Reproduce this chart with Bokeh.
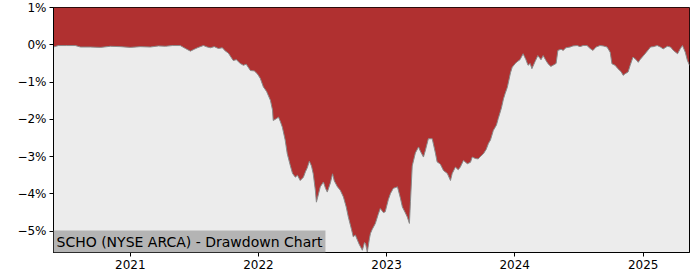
import pandas as pd
from bokeh.plotting import figure
from bokeh.models import Range1d, FixedTicker, CustomJSTickFormatter, Label, ColumnDataSource
from bokeh.embed import file_html
from bokeh.resources import INLINE

title_text = "SCHO (NYSE ARCA) - Drawdown Chart"

dates = [
    "2020-05-27", "2020-06-10", "2020-07-03", "2020-07-28", "2020-08-12", "2020-09-09",
    "2020-10-08", "2020-11-05", "2020-12-04", "2021-01-01", "2021-01-29", "2021-02-27",
    "2021-03-22", "2021-04-11", "2021-05-01", "2021-05-23", "2021-06-07", "2021-06-21",
    "2021-07-02", "2021-07-11", "2021-07-28", "2021-08-08", "2021-08-17", "2021-08-28",
    "2021-09-09", "2021-09-20", "2021-09-29", "2021-10-07", "2021-10-16", "2021-10-21",
    "2021-10-30", "2021-11-10", "2021-11-19", "2021-11-27", "2021-12-09", "2021-12-20",
    "2021-12-29", "2022-01-06", "2022-01-15", "2022-01-24", "2022-02-04", "2022-02-10",
    "2022-02-12", "2022-02-21", "2022-02-27", "2022-03-04", "2022-03-10", "2022-03-18",
    "2022-03-24", "2022-04-02", "2022-04-08", "2022-04-16", "2022-04-22", "2022-04-30",
    "2022-05-09", "2022-05-15", "2022-05-20", "2022-05-26", "2022-06-01", "2022-06-06",
    "2022-06-12", "2022-06-15", "2022-06-21", "2022-06-26", "2022-07-05", "2022-07-11",
    "2022-07-16", "2022-07-25", "2022-07-31", "2022-08-05", "2022-08-14", "2022-08-22",
    "2022-08-31", "2022-09-08", "2022-09-14", "2022-09-23", "2022-09-28", "2022-10-04",
    "2022-10-10", "2022-10-15", "2022-10-24", "2022-10-30", "2022-11-02", "2022-11-07",
    "2022-11-13", "2022-11-16", "2022-11-21", "2022-11-30", "2022-12-08", "2022-12-14",
    "2022-12-23", "2022-12-28", "2023-01-06", "2023-01-12", "2023-01-20", "2023-02-01",
    "2023-02-09", "2023-02-15", "2023-02-23", "2023-03-01", "2023-03-07", "2023-03-10",
    "2023-03-15", "2023-03-24", "2023-04-02", "2023-04-07", "2023-04-16", "2023-04-21",
    "2023-04-30", "2023-05-11", "2023-05-20", "2023-05-25", "2023-06-03", "2023-06-12",
    "2023-06-23", "2023-07-02", "2023-07-07", "2023-07-16", "2023-07-24", "2023-07-30",
    "2023-08-08", "2023-08-19", "2023-08-28", "2023-09-02", "2023-09-11", "2023-09-19",
    "2023-09-25", "2023-10-04", "2023-10-12", "2023-10-18", "2023-10-24", "2023-11-01",
    "2023-11-10", "2023-11-15", "2023-11-24", "2023-11-30", "2023-12-05", "2023-12-11",
    "2023-12-20", "2023-12-25", "2024-01-02", "2024-01-07", "2024-01-16", "2024-01-25",
    "2024-02-02", "2024-02-08", "2024-02-14", "2024-02-19", "2024-02-28", "2024-03-07",
    "2024-03-16", "2024-03-22", "2024-03-30", "2024-04-05", "2024-04-13", "2024-04-19",
    "2024-04-28", "2024-05-03", "2024-05-12", "2024-05-18", "2024-05-26", "2024-06-07",
    "2024-06-15", "2024-06-27", "2024-07-05", "2024-07-14", "2024-07-25", "2024-08-03",
    "2024-08-11", "2024-08-20", "2024-08-31", "2024-09-09", "2024-09-20", "2024-09-29",
    "2024-10-04", "2024-10-13", "2024-10-21", "2024-10-30", "2024-11-05", "2024-11-10",
    "2024-11-19", "2024-11-25", "2024-12-03", "2024-12-12", "2024-12-18", "2024-12-23",
    "2025-01-02", "2025-01-10", "2025-01-22", "2025-01-30", "2025-02-10", "2025-02-19",
    "2025-02-27", "2025-03-11", "2025-03-20", "2025-03-28", "2025-04-09", "2025-04-17",
    "2025-04-23", "2025-05-01", "2025-05-07", "2025-05-13",
]

drawdown_pct = [
    -0.06, -0.02, -0.02, -0.02, -0.06, -0.06,
    -0.07, -0.04, -0.05, -0.07, -0.05, -0.06,
    -0.03, -0.04, -0.02, -0.02, -0.10, -0.17,
    -0.12, -0.08, -0.02, -0.06, -0.08, -0.05,
    -0.10, -0.08, -0.17, -0.22, -0.35, -0.42,
    -0.40, -0.50, -0.55, -0.52, -0.69, -0.70,
    -0.78, -0.90, -1.13, -1.25, -1.49, -1.75,
    -2.03, -1.98, -1.94, -2.05, -2.21, -2.55,
    -2.92, -3.25, -3.45, -3.55, -3.50, -3.64,
    -3.55, -3.40, -3.30, -3.12, -3.25, -3.46,
    -3.90, -4.22, -4.00, -3.81, -3.68, -3.85,
    -3.95, -3.70, -3.46, -3.65, -3.81, -3.90,
    -4.08, -4.35, -4.62, -4.95, -5.15, -5.10,
    -5.24, -5.35, -5.51, -5.30, -5.33, -5.56,
    -5.20, -5.06, -4.95, -4.79, -4.55, -4.39,
    -4.50, -4.48, -4.15, -3.99, -3.85, -3.81,
    -4.10, -4.35, -4.50, -4.62, -4.79, -4.20,
    -3.25, -2.90, -2.74, -2.85, -3.01, -2.85,
    -2.52, -2.52, -2.90, -3.14, -3.20, -3.37,
    -3.45, -3.64, -3.45, -3.28, -3.35, -3.28,
    -3.10, -3.19, -3.15, -3.01, -3.05, -3.06,
    -3.00, -2.92, -2.80, -2.65, -2.55, -2.30,
    -2.15, -1.98, -1.70, -1.45, -1.30, -1.14,
    -0.75, -0.60, -0.51, -0.46, -0.40, -0.24,
    -0.40, -0.55, -0.50, -0.64, -0.45, -0.29,
    -0.40, -0.29, -0.42, -0.51, -0.58, -0.55,
    -0.50, -0.15, -0.12, -0.15, -0.08, -0.06,
    -0.03, -0.02, -0.05, -0.02, -0.02, -0.10,
    -0.15, -0.06, -0.02, -0.03, -0.06, -0.20,
    -0.51, -0.55, -0.64, -0.72, -0.82, -0.78,
    -0.73, -0.55, -0.33, -0.40, -0.47, -0.40,
    -0.29, -0.20, -0.06, -0.05, -0.02, -0.06,
    -0.11, -0.04, -0.06, -0.15, -0.24, -0.10,
    -0.02, -0.20, -0.42, -0.55,
]

year_ticks = [2021, 2022, 2023, 2024, 2025]
y_ticks = [1, 0, -1, -2, -3, -4, -5]
y_min, y_max = -5.57, 1.0

x = pd.to_datetime(dates)
src = ColumnDataSource(dict(x=x, dd=drawdown_pct, top=[y_max] * len(dates)))

p = figure(width=700, height=280, output_backend="svg", toolbar_location=None,
           x_axis_type="datetime",
           x_range=Range1d(x[0], x[-1]), y_range=Range1d(y_min, y_max),
           min_border_left=53, min_border_right=11, min_border_top=7, min_border_bottom=28)
p.background_fill_color = "#ececec"
p.border_fill_color = "white"
p.outline_line_color = "black"
p.outline_line_width = 1
p.grid.visible = False

p.varea(x="x", y1="dd", y2="top", source=src, fill_color="#b03030")
p.line(x="x", y="dd", source=src, line_color="#8a8a8a", line_width=1)

tick_ms = [pd.Timestamp(f"{y}-01-01").value // 10**6 for y in year_ticks]
p.xaxis.ticker = FixedTicker(ticks=tick_ms)
p.xaxis.formatter = CustomJSTickFormatter(code="return new Date(tick).getUTCFullYear().toString();")
p.yaxis.ticker = FixedTicker(ticks=y_ticks)
p.yaxis.formatter = CustomJSTickFormatter(
    code="return (tick < 0 ? '\u2212' : '') + Math.abs(tick).toFixed(0) + '%';")

for ax in (p.xaxis[0], p.yaxis[0]):
    ax.axis_line_color = "black"
    ax.major_tick_line_color = "black"
    ax.major_tick_in = 0
    ax.major_tick_out = 4
    ax.minor_tick_line_color = None
    ax.major_label_text_font = "DejaVu Sans"
    ax.major_label_text_font_size = "12px"
    ax.major_label_text_color = "black"
    ax.major_label_standoff = 3

lab = Label(x=x[0], y=y_min, text=title_text, text_font="DejaVu Sans",
            text_font_size="14px", text_color="black", text_baseline="bottom",
            background_fill_color="#b4b4b4", padding=3)
p.add_layout(lab)

open("out.html", "w").write(file_html(p, INLINE))
